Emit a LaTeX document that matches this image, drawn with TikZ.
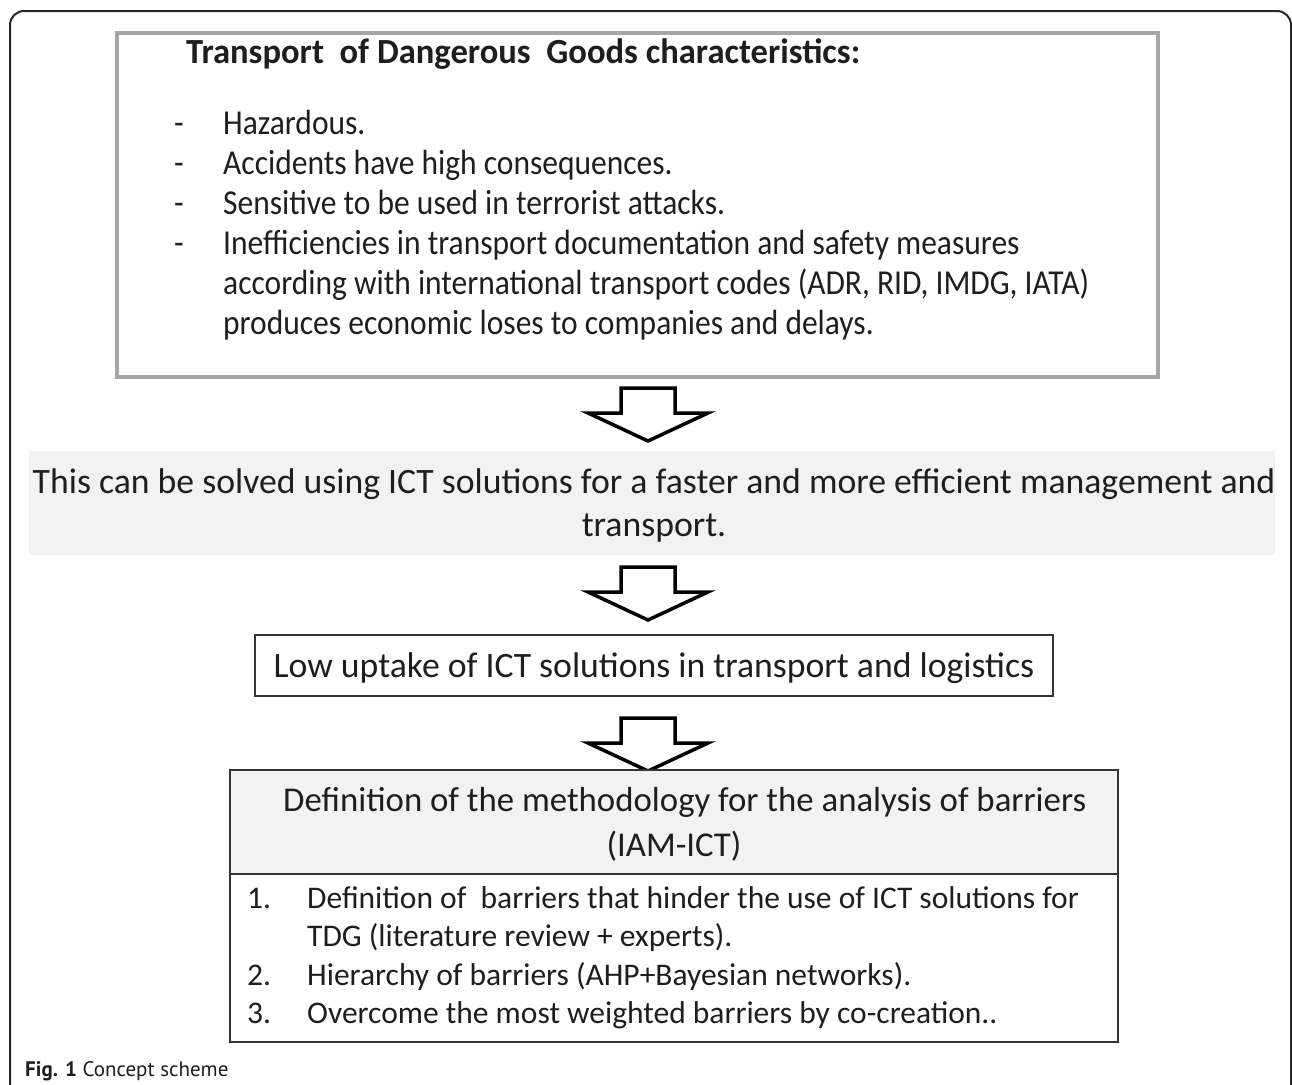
\documentclass[tikz,border=0pt]{standalone}
\usepackage{fontspec}
\setmainfont{Carlito}
\newfontfamily\capfont{PT Sans}
\newfontfamily\narrowfont{Carlito}[FakeStretch=0.9]
\newfontfamily\titlefamily{Carlito}[FakeStretch=0.98]
\definecolor{boxgray}{HTML}{A6A6A6}
\definecolor{bandgray}{HTML}{F2F2F2}
\definecolor{boxdark}{HTML}{333333}
\definecolor{ink}{HTML}{1E1E1E}
\tikzset{
  framebox/.style={draw=boxdark, line width=2pt, inner sep=0pt, anchor=north west},
  txt/.style={inner sep=0pt, text=ink, anchor=base west},
  ctxt/.style={inner sep=0pt, text=ink, anchor=base},
  topfont/.style={font=\narrowfont\fontsize{35}{40}\selectfont},
  titlefont/.style={font=\titlefamily\bfseries\fontsize{35.3}{40}\selectfont},
  bandfont/.style={font=\fontsize{35.7}{43}\selectfont},
  headfont/.style={font=\fontsize{34.8}{43}\selectfont},
  listfont/.style={font=\fontsize{31.5}{38}\selectfont},
  blockarrow/.pic={\draw[line width=3.5pt, fill=white, line join=miter, draw=black]
     (-27,0) -- (27,0) -- (27,25) -- (60,25) -- (0,53) -- (-60,25) -- (-27,25) -- cycle;}
}
\begin{document}
\begin{tikzpicture}[x=1pt,y=-1pt]
\useasboundingbox (0,0) rectangle (1292,1084);
\fill[white] (0,0) rectangle (1292,1084);
% outer frame
\draw[line width=2pt, black!85, rounded corners=14pt] (10,1100) -- (10,11) -- (1291,11) -- (1291,1100);

% top box
\node[draw=boxgray, line width=4pt, inner sep=0pt, anchor=north west,
      minimum width=1041pt, minimum height=344pt] (top) at (115,31) {};
\node[txt, titlefont] (title) at (186,63) {Transport\ \ of Dangerous\ \ Goods characteristics:};
\foreach \n/\y/\t in {b1/134/Hazardous., b2/174/Accidents have high consequences.,
   b3/214/Sensitive to be used in terrorist attacks.,
   b4/254/Inefficiencies in transport documentation and safety measures}{
  \node[txt, topfont] (d\n) at (174,\y) {-};
  \node[txt, topfont] (\n) at (223,\y) {\t};
}
\node[txt, topfont] (b5) at (223,294) {according with international transport codes (ADR, RID, IMDG, IATA)};
\node[txt, topfont] (b6) at (223,334) {produces economic loses to companies and delays.};

% arrow 1
\coordinate (a1) at (648,388);
\pic at (a1) {blockarrow};

% band
\node[fill=bandgray, inner sep=0pt, anchor=north west, minimum width=1246pt, minimum height=104pt] (band) at (29,451) {};
\node[ctxt, bandfont] (band1) at (654,493) {This can be solved using ICT solutions for a faster and more efficient management and};
\node[ctxt, bandfont] (band2) at (654,536) {transport.};

% arrow 2
\coordinate (a2) at (648,567);
\pic at (a2) {blockarrow};

% low uptake box
\node[framebox, minimum width=798pt, minimum height=61pt] (low) at (254,634) {};
\node[ctxt, bandfont] (lowtxt) at (low.center |- 0,677) {Low uptake of ICT solutions in transport and logistics};

% arrow 3
\coordinate (a3) at (648,718);
\pic at (a3) {blockarrow};

% bottom box
\node[framebox, fill=bandgray, minimum width=888pt, minimum height=104pt] (head) at (229,769) {};
\node[framebox, minimum width=888pt, minimum height=168pt] (list) at (229,873) {};
\node[txt, headfont] (head1) at (283,811) {Definition of the methodology for the analysis of barriers};
\node[ctxt, headfont] (head2) at (head.center |- 0,856) {(IAM-ICT)};

\node[txt, listfont] (n1) at (247,908) {1.};
\node[txt, listfont] (l1) at (307,908) {Definition of\ \ barriers that hinder the use of ICT solutions for};
\node[txt, listfont] (l1b) at (307,946) {TDG (literature review + experts).};
\node[txt, listfont] (n2) at (247,985) {2.};
\node[txt, listfont] (l2) at (307,985) {Hierarchy of barriers (AHP+Bayesian networks).};
\node[txt, listfont] (n3) at (247,1023) {3.};
\node[txt, listfont] (l3) at (307,1023) {Overcome the most weighted barriers by co-creation..};

% caption
\node[txt, font=\capfont\fontsize{21}{25}\selectfont] (cap) at (25,1076) {\textbf{Fig. 1} Concept scheme};
\end{tikzpicture}
\end{document}
